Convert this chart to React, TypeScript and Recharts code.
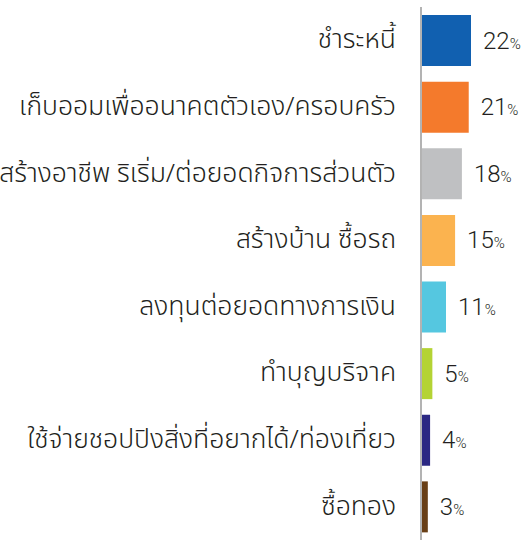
import React from 'react';
import { BarChart, Bar, XAxis, YAxis, Cell, LabelList } from 'recharts';

const categories = [
  'ชำระหนี้',
  'เก็บออมเพื่ออนาคตตัวเอง/ครอบครัว',
  'สร้างอาชีพ ริเริ่ม/ต่อยอดกิจการส่วนตัว',
  'สร้างบ้าน ซื้อรถ',
  'ลงทุนต่อยอดทางการเงิน',
  'ทำบุญบริจาค',
  'ใช้จ่ายชอปปิงสิ่งที่อยากได้/ท่องเที่ยว',
  'ซื้อทอง',
];
const values = [22, 21, 18, 15, 11, 5, 4, 3];
const colors = ['#1160b0', '#f47a2c', '#bfc0c2', '#fbb34f', '#55c7e0', '#b4d334', '#2b2883', '#693f16'];

const data = categories.map((name, i) => ({ name, value: values[i] }));

const ValueLabel = (props: any) => {
  const { x, y, width, height, value } = props;
  return (
    <text x={x + width + 12} y={y + height / 2 + 8} fill="#231f20" fontFamily="Roboto, sans-serif" fontWeight={300}>
      <tspan fontSize={24}>{value}</tspan>
      <tspan fontSize={15}>%</tspan>
    </text>
  );
};

const CategoryTick = (props: any) => {
  const { x, y, payload } = props;
  return (
    <text
      x={x}
      y={y}
      dy={8}
      textAnchor="end"
      fill="#231f20"
      fontSize={26.5}
      fontWeight={300}
      fontFamily="'Noto Sans Thai', 'Noto Sans', sans-serif"
    >
      {payload.value}
    </text>
  );
};

export default function App() {
  return (
    <div style={{ position: 'absolute', top: 0, left: 0, background: '#fff' }}>
      <BarChart
        width={524}
        height={544}
        data={data}
        layout="vertical"
        margin={{ top: 7, right: 53, bottom: 4, left: 0 }}
        barSize={51}
      >
        <XAxis type="number" domain={[0, 22]} hide />
        <YAxis
          type="category"
          dataKey="name"
          width={421}
          axisLine={{ stroke: '#b3b3b3', strokeWidth: 2 }}
          tickLine={false}
          tickSize={0}
          tickMargin={25}
          tick={<CategoryTick />}
          interval={0}
        />
        <Bar dataKey="value" isAnimationActive={false}>
          {data.map((entry, index) => (
            <Cell key={`cell-${index}`} fill={colors[index]} />
          ))}
          <LabelList dataKey="value" content={<ValueLabel />} />
        </Bar>
      </BarChart>
    </div>
  );
}
